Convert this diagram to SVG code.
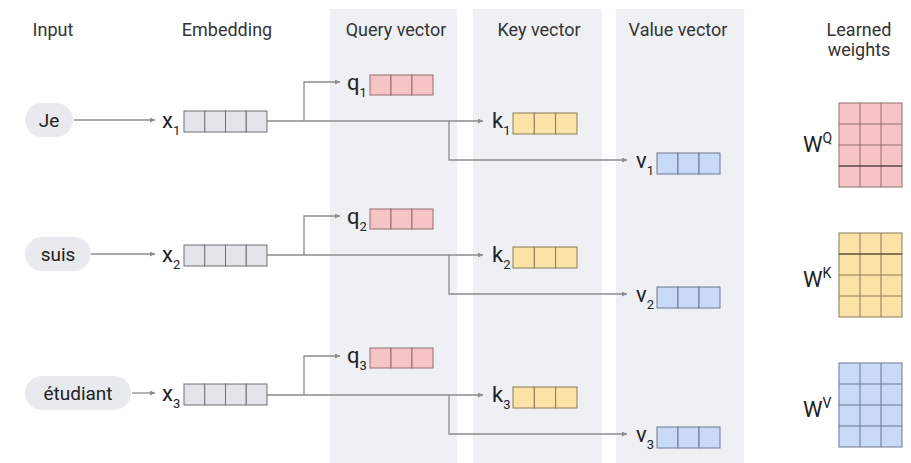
<svg xmlns="http://www.w3.org/2000/svg" width="911" height="463" viewBox="0 0 911 463">
<style>
  text { font-family: Roboto, "Open Sans", "Liberation Sans", sans-serif; fill: #222; }
  .hdr { font-size: 18px; text-anchor: middle; fill: #333; }
  .pilltxt { font-size: 19px; text-anchor: middle; }
  .lbl { font-size: 22px; }
  .sub { font-size: 13px; }
  .sup { font-size: 14px; }
  .pill { fill: #e9eaee; }
  .panel { fill: #eef0f4; }
  .conn { fill: none; stroke: #8c8c8c; stroke-width: 1.3; }
  .cellx { fill: #e3e4e9; stroke: #707070; stroke-width: 1; }
  .cellq { fill: #f7c4c5; stroke: #8f6e6e; stroke-width: 1; }
  .cellk { fill: #fbe3a8; stroke: #8a7c56; stroke-width: 1; }
  .cellv { fill: #c9daf9; stroke: #6c7790; stroke-width: 1; }
</style>
<defs>
  <marker id="ah" viewBox="0 0 10 10" refX="10" refY="5" markerWidth="6" markerHeight="5" markerUnits="userSpaceOnUse" orient="auto">
    <path d="M0,0 L10,5 L0,10 Z" fill="#8c8c8c"/>
  </marker>
  <g id="vx">
    <rect class="cellx" x="0" y="0" width="20.75" height="21"/>
    <rect class="cellx" x="20.75" y="0" width="20.75" height="21"/>
    <rect class="cellx" x="41.5" y="0" width="20.75" height="21"/>
    <rect class="cellx" x="62.25" y="0" width="20.75" height="21"/>
  </g>
  <g id="vq">
    <rect class="cellq" x="0" y="0" width="21" height="20"/>
    <rect class="cellq" x="21" y="0" width="21" height="20"/>
    <rect class="cellq" x="42" y="0" width="21" height="20"/>
  </g>
  <g id="vk">
    <rect class="cellk" x="0" y="0" width="21.3" height="21"/>
    <rect class="cellk" x="21.3" y="0" width="21.3" height="21"/>
    <rect class="cellk" x="42.6" y="0" width="21.4" height="21"/>
  </g>
  <g id="vv">
    <rect class="cellv" x="0" y="0" width="21" height="21"/>
    <rect class="cellv" x="21" y="0" width="21" height="21"/>
    <rect class="cellv" x="42" y="0" width="21" height="21"/>
  </g>
</defs>

<rect width="911" height="463" fill="#ffffff"/>

<!-- column panels -->
<g id="panels">
  <rect class="panel" x="330" y="9" width="127" height="454"/>
  <rect class="panel" x="473" y="9" width="129" height="454"/>
  <rect class="panel" x="616" y="9" width="128" height="454"/>
</g>

<!-- headers -->
<g id="headers">
  <text class="hdr" x="53" y="36">Input</text>
  <text class="hdr" x="227" y="36">Embedding</text>
  <text class="hdr" x="396" y="36">Query vector</text>
  <text class="hdr" x="539" y="36">Key vector</text>
  <text class="hdr" x="678" y="36">Value vector</text>
  <text class="hdr" x="859" y="36">Learned</text>
  <text class="hdr" x="859" y="56">weights</text>
</g>

<!-- connectors -->
<g id="connectors">
  <!-- row 1 -->
  <line class="conn" x1="74" y1="120" x2="155" y2="120" marker-end="url(#ah)"/>
  <line class="conn" x1="267" y1="121" x2="483" y2="121" marker-end="url(#ah)"/>
  <polyline class="conn" points="304,121 304,82 340,82" marker-end="url(#ah)"/>
  <polyline class="conn" points="449,121 449,160 627,160" marker-end="url(#ah)"/>
  <!-- row 2 -->
  <line class="conn" x1="91" y1="254" x2="155" y2="254" marker-end="url(#ah)"/>
  <line class="conn" x1="267" y1="255" x2="483" y2="255" marker-end="url(#ah)"/>
  <polyline class="conn" points="304,255 304,216 340,216" marker-end="url(#ah)"/>
  <polyline class="conn" points="449,255 449,294 627,294" marker-end="url(#ah)"/>
  <!-- row 3 -->
  <line class="conn" x1="132" y1="393" x2="155" y2="393" marker-end="url(#ah)"/>
  <line class="conn" x1="267" y1="395" x2="483" y2="395" marker-end="url(#ah)"/>
  <polyline class="conn" points="304,395 304,356 340,356" marker-end="url(#ah)"/>
  <polyline class="conn" points="449,395 449,434 627,434" marker-end="url(#ah)"/>
</g>

<!-- row 1 nodes -->
<g id="input-je">
  <rect class="pill" x="25" y="103" width="48" height="34" rx="17"/>
  <text class="pilltxt" x="49" y="127">Je</text>
</g>
<g id="x1">
  <text class="lbl" x="162" y="128">x<tspan class="sub" dy="7">1</tspan></text>
  <use href="#vx" x="184" y="111"/>
</g>
<g id="q1">
  <text class="lbl" x="347" y="90">q<tspan class="sub" dy="7">1</tspan></text>
  <use href="#vq" x="370" y="75"/>
</g>
<g id="k1">
  <text class="lbl" x="492" y="128">k<tspan class="sub" dy="7">1</tspan></text>
  <use href="#vk" x="513" y="113"/>
</g>
<g id="v1">
  <text class="lbl" x="636" y="168">v<tspan class="sub" dy="7">1</tspan></text>
  <use href="#vv" x="657" y="153"/>
</g>

<!-- row 2 nodes -->
<g id="input-suis">
  <rect class="pill" x="25" y="237" width="66" height="34" rx="17"/>
  <text class="pilltxt" x="58" y="261">suis</text>
</g>
<g id="x2">
  <text class="lbl" x="162" y="262">x<tspan class="sub" dy="7">2</tspan></text>
  <use href="#vx" x="184" y="245"/>
</g>
<g id="q2">
  <text class="lbl" x="347" y="224">q<tspan class="sub" dy="7">2</tspan></text>
  <use href="#vq" x="370" y="209"/>
</g>
<g id="k2">
  <text class="lbl" x="492" y="262">k<tspan class="sub" dy="7">2</tspan></text>
  <use href="#vk" x="513" y="247"/>
</g>
<g id="v2">
  <text class="lbl" x="636" y="302">v<tspan class="sub" dy="7">2</tspan></text>
  <use href="#vv" x="657" y="287"/>
</g>

<!-- row 3 nodes -->
<g id="input-etudiant">
  <rect class="pill" x="25" y="376" width="106" height="34" rx="17"/>
  <text class="pilltxt" x="78" y="400">étudiant</text>
</g>
<g id="x3">
  <text class="lbl" x="162" y="401">x<tspan class="sub" dy="7">3</tspan></text>
  <use href="#vx" x="184" y="384"/>
</g>
<g id="q3">
  <text class="lbl" x="347" y="363">q<tspan class="sub" dy="7">3</tspan></text>
  <use href="#vq" x="370" y="348"/>
</g>
<g id="k3">
  <text class="lbl" x="492" y="402">k<tspan class="sub" dy="7">3</tspan></text>
  <use href="#vk" x="513" y="387"/>
</g>
<g id="v3">
  <text class="lbl" x="636" y="442">v<tspan class="sub" dy="7">3</tspan></text>
  <use href="#vv" x="657" y="427"/>
</g>

<!-- learned weight matrices -->
<g id="WQ">
  <text class="lbl" x="803" y="152">W<tspan class="sup" dy="-9">Q</tspan></text>
  <rect x="839" y="103" width="63" height="84" fill="#f7c4c5" stroke="#8f6e6e" stroke-width="1"/>
  <path d="M860,103 V187 M881,103 V187 M839,124 H902 M839,145 H902" stroke="#8f6e6e" stroke-width="1" fill="none"/>
  <path d="M839,166 H902" stroke="#5a4545" stroke-width="1.6" fill="none"/>
</g>
<g id="WK">
  <text class="lbl" x="803" y="287">W<tspan class="sup" dy="-9">K</tspan></text>
  <rect x="839" y="233" width="63" height="84" fill="#fbe3a8" stroke="#8a7c56" stroke-width="1"/>
  <path d="M860,233 V317 M881,233 V317 M839,275 H902 M839,296 H902" stroke="#8a7c56" stroke-width="1" fill="none"/>
  <path d="M839,254 H902" stroke="#5a5035" stroke-width="1.6" fill="none"/>
</g>
<g id="WV">
  <text class="lbl" x="803" y="417">W<tspan class="sup" dy="-9">V</tspan></text>
  <rect x="839" y="363" width="63" height="84" fill="#c9daf9" stroke="#6c7790" stroke-width="1"/>
  <path d="M860,363 V447 M881,363 V447 M839,384 H902 M839,405 H902 M839,426 H902" stroke="#6c7790" stroke-width="1" fill="none"/>
</g>
</svg>
